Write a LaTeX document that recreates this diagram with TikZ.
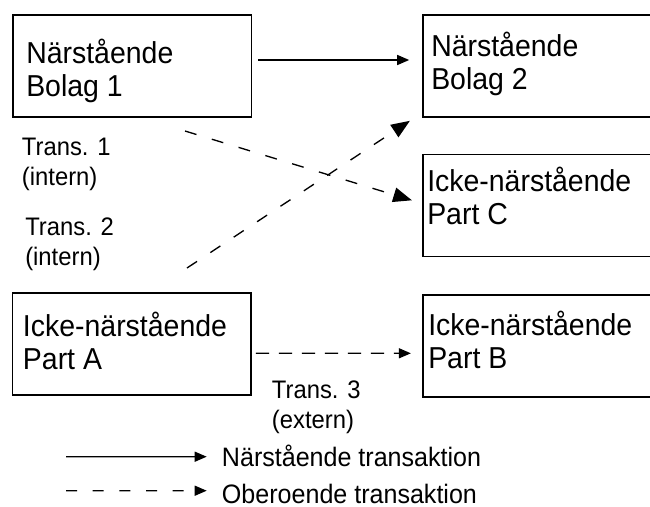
\documentclass[tikz,border=0pt]{standalone}
\usepackage{fontspec}
\setmainfont{Liberation Sans}[FakeStretch=0.94]
\usetikzlibrary{arrows.meta}

\begin{document}
\begin{tikzpicture}[x=0.75pt,y=0.75pt,yscale=-1,xscale=1,
                box/.style={draw, line width=1.2pt, inner sep=0pt, minimum width=179pt, minimum height=76.5pt},
                rbox/.style={box, minimum width=195pt},
                boxtext/.style={anchor=base west, inner sep=0pt, align=flush left, text width=170pt, font=\fontsize{22.7}{24.75}\selectfont},
                transtext/.style={anchor=base west, inner sep=0pt, align=flush left, text width=80pt, font=\fontsize{19}{22.5}\selectfont},
                keytext/.style={anchor=base west, inner sep=0pt, font=\fontsize{20}{24}\selectfont},
                rel/.style={line width=1pt, -{Triangle[length=9pt,width=7.5pt]}},
                indep/.style={rel, dash pattern=on 10pt off 7.25pt},
                keyindep/.style={rel, dash pattern=on 8.25pt off 11.75pt},
                cross/.style={line width=1pt, dash pattern=on 9pt off 12pt, -{Triangle[length=14pt,width=11pt]}}]
                \path[clip, use as bounding box] (0,0) rectangle (650,507);
                \fill[white] (0,0) rectangle (650,507);
                \node[box] (bolag1) at (132.2,66) {};
                \node[rbox] (bolag2) at (552.7,66) {};
                \node[rbox] (partC) at (552.7,205.3) {};
                \node[box] (partA) at (131.7,344.2) {};
                \node[rbox] (partB) at (552.7,345.8) {};
                \node[boxtext] (bolag1txt) at (26,63.3) {Närstående\\Bolag 1};
                \node[boxtext] (bolag2txt) at (431,56.7) {Närstående\\Bolag 2};
                \node[boxtext] (partCtxt) at (427,191) {Icke-närstående\\Part C};
                \node[boxtext] (partAtxt) at (22.7,336.7) {Icke-närstående\\Part A};
                \node[boxtext] (partBtxt) at (428,335.7) {Icke-närstående\\Part B};
                \node[transtext] (trans1) at (21.7,155) {Trans. 1\\(intern)};
                \node[transtext] (trans2) at (25,235) {Trans. 2\\(intern)};
                \node[transtext] (trans3) at (271.7,398.3) {Trans. 3\\(extern)};
                \coordinate (trans1start) at (185,131);
                \coordinate (trans2start) at (187,268);
                \draw[rel] ([shift={(6,-6)}]bolag1.east) -- ([shift={(-12.7,-6)}]bolag2.west);
                \draw[cross] (trans1start) -- ([shift={(-10,-5)}]partC.west);
                \draw[cross] (trans2start) -- ([shift={(-12,3)}]bolag2.south west);
                \draw[indep] ([shift={(4,9)}]partA.east) -- ([shift={(-11,7.5)}]partB.west);
                \node[keytext] (keyrel) at (221.7,466) {Närstående transaktion};
                \node[keytext] (keyother) at (221.7,503) {Oberoende transaktion};
                \coordinate (keyrelstart) at (66,456.7);
                \coordinate (keyotherstart) at (66,490.7);
                \draw[rel] (keyrelstart) -- ([shift={(-15,-9.3)}]keyrel.base west);
                \draw[keyindep] (keyotherstart) -- ([shift={(-15,-12.3)}]keyother.base west);
            \end{tikzpicture}
\end{document}
